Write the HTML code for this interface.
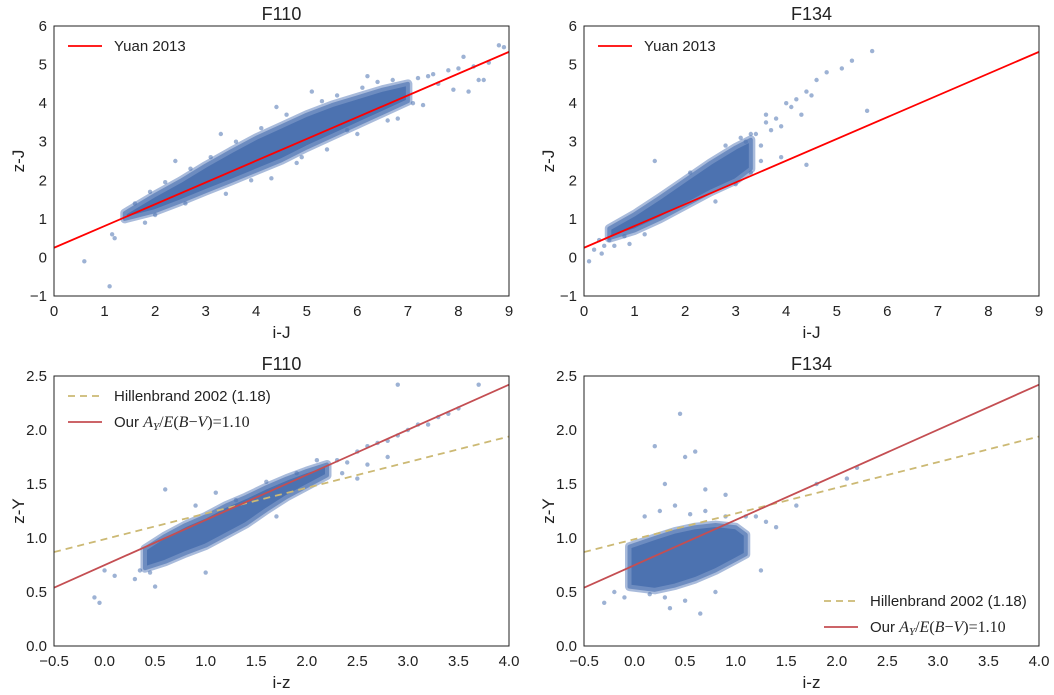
<!DOCTYPE html>
<html><head><meta charset="utf-8">
<style>
body{margin:0;background:#fff;}
svg{display:block;font-family:"Liberation Sans",sans-serif;}
</style></head>
<body>
<svg id="chart" width="1054" height="695" viewBox="0 0 1054 695"></svg>
<script>
// Panel 1: F110, z-J vs i-J
const p1BandX=[1.4,2,2.5,3,3.5,4,4.5,5,5.5,6,6.5,7];
const p1BandLo=[1.0,1.2,1.45,1.72,1.98,2.25,2.52,2.85,3.15,3.45,3.75,4.05];
const p1BandHi=[1.15,1.62,1.98,2.38,2.75,3.1,3.4,3.7,3.95,4.15,4.35,4.5];
const p1PtsX=[0.6,1.1,1.2,1.15,1.8,2.4,3.3,4.4,5.1,6.2,7.1,7.6,8.1,8.2,8.5,8.8,8.9,4.9,5.8,3.9,6.8,7.4,
 1.6,1.9,2.2,2.7,3.1,3.6,4.1,4.6,5.3,5.6,6.1,6.4,6.7,7.2,7.5,7.8,8.0,8.3,8.6,2.0,2.6,3.4,4.3,4.8,5.4,6.0,6.6,7.3,7.9,8.4];
const p1PtsY=[-0.1,-0.75,0.5,0.6,0.9,2.5,3.2,3.9,4.3,4.7,4.0,4.5,5.2,4.3,4.6,5.5,5.45,2.6,3.3,2.0,3.6,4.7,
 1.4,1.7,1.95,2.3,2.6,3.0,3.35,3.7,4.05,4.2,4.4,4.55,4.6,4.65,4.75,4.85,4.9,4.95,5.05,1.1,1.4,1.65,2.05,2.45,2.8,3.2,3.55,3.95,4.35,4.6];
// Panel 2: F134, z-J vs i-J
const p2BandX=[0.5,1,1.5,2,2.5,3,3.3];
const p2BandLo=[0.5,0.7,1.0,1.35,1.7,2.0,2.3];
const p2BandHi=[0.75,1.12,1.55,2.0,2.45,2.85,3.05];
const p2PtsX=[0.1,0.2,0.35,0.4,0.5,0.9,1.4,2.1,3.3,3.6,3.8,4.0,4.2,4.4,4.6,4.8,5.1,5.3,5.7,5.6,4.4,3.9,3.5,
 3.2,3.4,3.5,3.7,3.6,3.9,4.1,4.3,4.5,3.0,2.8,3.1,0.3,0.6,0.8,1.2,2.6,3.3];
const p2PtsY=[-0.1,0.2,0.1,0.3,0.45,0.35,2.5,2.2,3.2,3.5,3.6,4.0,4.1,4.3,4.6,4.8,4.9,5.1,5.35,3.8,2.4,2.6,2.9,
 3.0,3.2,2.5,3.3,3.7,3.4,3.9,3.7,4.2,1.9,2.9,3.1,0.45,0.3,0.55,0.6,1.45,2.2];
// Panel 3: F110, z-Y vs i-z
const p3BandX=[0.4,0.6,0.8,1,1.2,1.4,1.6,1.8,2.0,2.2];
const p3BandLo=[0.72,0.78,0.86,0.93,1.03,1.13,1.26,1.38,1.48,1.58];
const p3BandHi=[0.9,1.02,1.12,1.2,1.3,1.38,1.47,1.55,1.62,1.68];
const p3PtsX=[-0.1,-0.05,0.0,0.1,0.3,0.5,0.6,0.9,1.1,1.3,1.7,2.4,2.6,2.8,3.0,3.2,3.4,3.5,3.7,2.9,2.5,1.0,
 2.3,2.5,2.7,2.9,3.1,3.3,2.35,2.6,2.8,0.35,0.45,1.6,1.9,2.1];
const p3PtsY=[0.45,0.4,0.7,0.65,0.62,0.55,1.45,1.3,1.42,1.35,1.2,1.7,1.85,1.9,2.0,2.05,2.15,2.2,2.42,2.42,1.55,0.68,
 1.72,1.8,1.88,1.95,2.05,2.12,1.6,1.68,1.75,0.7,0.68,1.52,1.6,1.72];
// Panel 4: F134, z-Y vs i-z
const p4BandX=[-0.05,0.2,0.4,0.6,0.8,1.0,1.1];
const p4BandLo=[0.55,0.52,0.56,0.62,0.7,0.8,0.85];
const p4BandHi=[0.92,1.0,1.06,1.1,1.12,1.1,1.03];
const p4PtsX=[-0.3,-0.2,-0.1,0.2,0.3,0.35,0.45,0.5,0.6,0.7,0.9,1.2,1.4,1.6,1.8,2.1,2.2,0.65,1.25,
 0.1,0.25,0.4,0.55,0.3,0.5,0.8,1.1,1.3,0.15,0.7,0.9];
const p4PtsY=[0.4,0.5,0.45,1.85,1.5,0.35,2.15,1.75,1.8,1.45,1.4,1.2,1.1,1.3,1.5,1.55,1.65,0.3,0.7,
 1.2,1.25,1.3,1.22,0.45,0.42,0.5,1.2,1.15,0.48,1.25,1.2];

const yuanX=[0,9], yuanY=[0.25,5.33];
const ourX=[-0.5,4], ourY=[0.54,2.42];
const hilX=[-0.5,4], hilY=[0.87,1.94];

const NS='http://www.w3.org/2000/svg';
const svg=document.getElementById('chart');
function mk(tag,attrs,parent){const e=document.createElementNS(NS,tag);for(const k in attrs)e.setAttribute(k,attrs[k]);(parent||svg).appendChild(e);return e;}

const panels=[
 {id:'p1',title:'F110',xl:'i-J',yl:'z-J',L:54,R:509,T:26,B:296,x0:0,x1:9,y0:-1,y1:6,xt:[0,1,2,3,4,5,6,7,8,9],yt:[-1,0,1,2,3,4,5,6],dec:0,bx:p1BandX,lo:p1BandLo,hi:p1BandHi,px:p1PtsX,py:p1PtsY,kind:'yuan'},
 {id:'p2',title:'F134',xl:'i-J',yl:'z-J',L:584,R:1039,T:26,B:296,x0:0,x1:9,y0:-1,y1:6,xt:[0,1,2,3,4,5,6,7,8,9],yt:[-1,0,1,2,3,4,5,6],dec:0,bx:p2BandX,lo:p2BandLo,hi:p2BandHi,px:p2PtsX,py:p2PtsY,kind:'yuan'},
 {id:'p3',title:'F110',xl:'i-z',yl:'z-Y',L:54,R:509,T:376,B:646,x0:-0.5,x1:4,y0:0,y1:2.5,xt:[-0.5,0,0.5,1,1.5,2,2.5,3,3.5,4],yt:[0,0.5,1,1.5,2,2.5],dec:1,bx:p3BandX,lo:p3BandLo,hi:p3BandHi,px:p3PtsX,py:p3PtsY,kind:'ext',leg:'tl'},
 {id:'p4',title:'F134',xl:'i-z',yl:'z-Y',L:584,R:1039,T:376,B:646,x0:-0.5,x1:4,y0:0,y1:2.5,xt:[-0.5,0,0.5,1,1.5,2,2.5,3,3.5,4],yt:[0,0.5,1,1.5,2,2.5],dec:1,bx:p4BandX,lo:p4BandLo,hi:p4BandHi,px:p4PtsX,py:p4PtsY,kind:'ext',leg:'br'}
];

panels.forEach(p=>{
 const g=mk('g',{});
 
 
 const sx=v=>p.L+(v-p.x0)/(p.x1-p.x0)*(p.R-p.L);
 const sy=v=>p.B-(v-p.y0)/(p.y1-p.y0)*(p.B-p.T);
 const cp=mk('clipPath',{id:'c'+p.id},g);mk('rect',{x:p.L,y:p.T,width:p.R-p.L,height:p.B-p.T},cp);
 const dg=mk('g',{'clip-path':'url(#c'+p.id+')'},g);
 let d='';
 p.bx.forEach((x,i)=>{d+=(i?'L':'M')+sx(x)+','+sy(p.hi[i]);});
 for(let i=p.bx.length-1;i>=0;i--)d+='L'+sx(p.bx[i])+','+sy(p.lo[i]);
 const halo=mk('path',{d:d+'Z',fill:'none',stroke:'#a9bbdb','stroke-width':9,'stroke-linejoin':'round'},dg);
 
 
 const band=mk('path',{d:d+'Z',fill:'#4c72b0',stroke:'#6d8cc0','stroke-width':4,'stroke-linejoin':'round'},dg);
 
 
 p.px.forEach((x,i)=>{
  const c=mk('circle',{cx:sx(x),cy:sy(p.py[i]),r:2.2,fill:'#4c72b0','fill-opacity':0.55},dg);
  
  
 });
 if(p.kind==='yuan'){
  const l=mk('line',{x1:sx(yuanX[0]),y1:sy(yuanY[0]),x2:sx(yuanX[1]),y2:sy(yuanY[1]),stroke:'#ff0000','stroke-width':1.8},dg);
  
  
 } else {
  const h=mk('line',{x1:sx(hilX[0]),y1:sy(hilY[0]),x2:sx(hilX[1]),y2:sy(hilY[1]),stroke:'#ccb974','stroke-width':1.8,'stroke-dasharray':'7,5'},dg);
  
  
  const o=mk('line',{x1:sx(ourX[0]),y1:sy(ourY[0]),x2:sx(ourX[1]),y2:sy(ourY[1]),stroke:'#c44e52','stroke-width':1.8},dg);
  
  
 }
 const fr=mk('rect',{x:p.L,y:p.T,width:p.R-p.L,height:p.B-p.T,fill:'none',stroke:'#222','stroke-width':1},g);
 
 
 p.xt.forEach(v=>{
  const t=mk('text',{x:sx(v),y:p.B+20,'text-anchor':'middle','font-size':15,fill:'#222'},g);
  t.textContent=(p.dec?v.toFixed(1):String(v)).replace('-','\u2212');
  
  
 });
 p.yt.forEach(v=>{
  const t=mk('text',{x:p.L-7,y:sy(v)+5,'text-anchor':'end','font-size':15,fill:'#222'},g);
  t.textContent=(p.dec?v.toFixed(1):String(v)).replace('-','\u2212');
  
  
 });
 const ti=mk('text',{x:(p.L+p.R)/2,y:p.T-6,'text-anchor':'middle','font-size':18,fill:'#222'},g);
 ti.textContent=p.title;
 
 
 const xl=mk('text',{x:(p.L+p.R)/2,y:p.B+42,'text-anchor':'middle','font-size':17,fill:'#222'},g);
 xl.textContent=p.xl;
 
 
 const yl=mk('text',{x:p.L-30,y:(p.T+p.B)/2,'text-anchor':'middle','font-size':17,fill:'#222',transform:'rotate(-90 '+(p.L-30)+' '+((p.T+p.B)/2)+')'},g);
 yl.textContent=p.yl;
 
 
 if(p.kind==='yuan'){
  const lg=mk('g',{},g);
  
  
  mk('line',{x1:p.L+14,y1:46,x2:p.L+48,y2:46,stroke:'#ff0000','stroke-width':1.8},lg);
  const t=mk('text',{x:p.L+60,y:51,'font-size':15,fill:'#222'},lg);t.textContent='Yuan 2013';
 } else {
  const lx=p.leg==='tl'?p.L+14:p.L+240, ly=p.leg==='tl'?396:601;
  const a=mk('g',{},g);
  
  
  mk('line',{x1:lx,y1:ly,x2:lx+34,y2:ly,stroke:'#ccb974','stroke-width':1.8,'stroke-dasharray':'7,5'},a);
  const t1=mk('text',{x:lx+46,y:ly+5,'font-size':15,fill:'#222'},a);t1.textContent='Hillenbrand 2002 (1.18)';
  const b=mk('g',{},g);
  
  
  mk('line',{x1:lx,y1:ly+26,x2:lx+34,y2:ly+26,stroke:'#c44e52','stroke-width':1.8},b);
  const t2=mk('text',{x:lx+46,y:ly+31,'font-size':15,fill:'#222'},b);
  t2.innerHTML='Our <tspan font-family="Liberation Serif" font-style="italic" font-size="16">A</tspan><tspan font-family="Liberation Serif" font-style="italic" font-size="11" dy="3">Y</tspan><tspan font-family="Liberation Serif" font-size="16" dy="-3">/</tspan><tspan font-family="Liberation Serif" font-style="italic" font-size="16">E</tspan><tspan font-family="Liberation Serif" font-size="16">(</tspan><tspan font-family="Liberation Serif" font-style="italic" font-size="16">B</tspan><tspan font-family="Liberation Serif" font-size="16">\u2212</tspan><tspan font-family="Liberation Serif" font-style="italic" font-size="16">V</tspan><tspan font-family="Liberation Serif" font-size="16">)=1.10</tspan>';
 }
});
</script>
</body></html>
